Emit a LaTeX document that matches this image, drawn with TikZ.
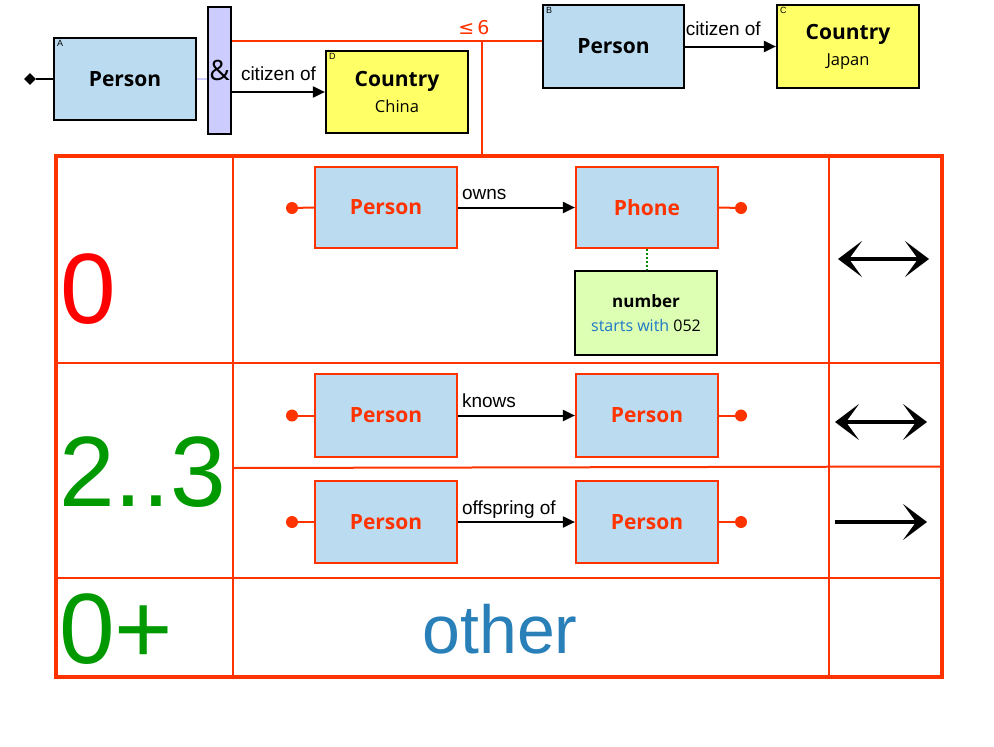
\documentclass[tikz,border=0pt]{standalone}
\usepackage{fontspec}
\setmainfont{Liberation Sans}
\newfontfamily\nf{Open Sans}
\newfontfamily\dv{DejaVu Sans}
\usetikzlibrary{arrows.meta,shapes.geometric}
\definecolor{redc}{RGB}{255,51,0}
\definecolor{entblue}{RGB}{187,220,240}
\definecolor{yel}{RGB}{255,255,102}
\definecolor{lav}{RGB}{204,204,255}
\definecolor{lgreen}{RGB}{221,255,179}
\definecolor{grn}{RGB}{0,153,0}
\definecolor{bluec}{RGB}{41,128,185}
\definecolor{swc}{RGB}{30,120,200}
\definecolor{dotgreen}{RGB}{0,140,0}
\tikzset{
  ent/.style={draw=black, line width=2.2pt, fill=entblue, minimum width=142pt, minimum height=82pt, inner sep=0pt, font=\nf\bfseries\fontsize{21}{24}\selectfont},
  rent/.style={ent, draw=redc, line width=2.2pt, text=redc},
  cty/.style={ent, fill=yel, align=center, font=\nf\bfseries\fontsize{21}{26}\selectfont},
  tag/.style={font=\fontsize{9}{10}\selectfont, anchor=north west, inner sep=0pt, xshift=4pt, yshift=-3pt},
  arr/.style={draw=black, line width=2pt, -{Triangle[length=12pt,width=11pt]}},
  lbl/.style={font=\fontsize{19}{22}\selectfont, inner sep=0pt},
  rdot/.style={circle, fill=redc, minimum size=12pt, inner sep=0pt},
  redline/.style={draw=redc, line width=2pt},
  bigarr/.style={line width=4.2pt, black},
  cnt/.style={font=\fontsize{100}{110}\selectfont, anchor=base west, inner sep=0pt}
}
\begin{document}
\begin{tikzpicture}[x=1pt,y=-1pt]
\useasboundingbox (0,0) rectangle (994,747);
% ---- top pattern
\node[ent] (A) at (125,79) {Person};
\node[tag] at (A.north west) {A};
\node[draw=black, line width=2.2pt, fill=lav, minimum width=23pt, minimum height=127pt, inner sep=0pt, font=\nf\fontsize{28}{30}\selectfont] (amp) at (219.5,70.5) {\&};
\node[cty] (D) at (397,92) {Country\\{\nf\mdseries\fontsize{16.5}{26}\selectfont China}};
\node[tag] at (D.north west) {D};
\node[ent, minimum width=141pt, minimum height=83pt] (B) at (613.5,46.5) {Person};
\node[tag] at (B.north west) {B};
\node[cty, minimum height=83pt] (C) at (848,46.5) {Country\\{\nf\mdseries\fontsize{16.5}{26}\selectfont Japan}};
\node[tag] at (C.north west) {C};
\node[diamond, fill=black, minimum size=12pt, inner sep=0pt] (dia) at (30,79) {};
\draw[line width=2pt] (dia) -- (A.west);
\draw[lav, line width=2pt] (A.east) -- (amp.west |- A.east);
\draw[arr] (amp.east |- D.west) -- node[lbl, above, yshift=10pt] {citizen of} (D.west);
\draw[arr] (B.east) -- node[lbl, above, yshift=10pt, pos=0.42] {citizen of} (C.west);
% ---- constraint line
\coordinate (tt) at (482,156);
\draw[redline] (amp.east |- B.west) ++(0,-5.5) coordinate (cl) -- (cl -| B.west);
\draw[redline] (482,41) -- (tt);
\node[font=\dv\fontsize{19}{22}\selectfont, text=redc, inner sep=0pt] (le) at (474,28) {≤\,6};
% ---- table
\draw[redc, line width=2pt] (233,156) -- (233,677);
\draw[redc, line width=2pt] (829,156) -- (829,677);
\draw[redc, line width=2pt] (56,363) -- (942,363);
\draw[redc, line width=2pt] (56,578) -- (942,578);
\draw[redc, line width=2pt] (233,468) -- (942,466.5);
\draw[redc, line width=4pt] (56,156) rectangle (942,677);
% row labels
\node[cnt, text=red] (n0) at (60,323) {0};
\node[cnt, text=grn] (n23) at (59,506) {2..3};
\node[cnt, text=grn] (n0p) at (59,663) {0+};
\node[font=\fontsize{68}{72}\selectfont, text=bluec, anchor=base, inner sep=0pt] (oth) at (500,653) {other};
% row 1
\node[rent, minimum height=81pt] (p1) at (386,207.5) {Person};
\node[rent, minimum height=81pt] (ph) at (647,207.5) {Phone};
\node[rdot] (d1) at (292,208) {};
\node[rdot] (d2) at (741,208) {};
\draw[redline] (d1) -- (p1.west);
\draw[redline] (ph.east) -- (d2);
\draw[arr] (p1.east) -- (ph.west) node[lbl, pos=0, anchor=base west, xshift=3pt, yshift=8pt] {owns};
\node[draw=black, line width=2.2pt, fill=lgreen, minimum width=142pt, minimum height=84pt, inner sep=0pt, align=center, font=\nf\bfseries\fontsize{17}{24}\selectfont] (num) at (646,313) {number\\{\nf\mdseries\fontsize{16}{24}\selectfont\color{swc}starts with \color{black}052}};
\draw[dotgreen, line width=2pt, dotted] (ph.south) -- (ph.south |- num.north);
% row 2
\node[rent, minimum height=83pt] (p2) at (386,415.5) {Person};
\node[rent, minimum height=83pt] (p3) at (647,415.5) {Person};
\node[rdot] (d3) at (292,415.5) {};
\node[rdot] (d4) at (741,415.5) {};
\draw[redline] (d3) -- (p2.west);
\draw[redline] (p3.east) -- (d4);
\draw[arr] (p2.east) -- (p3.west) node[lbl, pos=0, anchor=base west, xshift=3pt, yshift=8pt] {knows};
% row 3
\node[rent] (p4) at (386,522) {Person};
\node[rent] (p5) at (647,522) {Person};
\node[rdot] (d5) at (292,522) {};
\node[rdot] (d6) at (741,522) {};
\draw[redline] (d5) -- (p4.west);
\draw[redline] (p5.east) -- (d6);
\draw[arr] (p4.east) -- (p5.west) node[lbl, pos=0, anchor=base west, xshift=3pt, yshift=8pt] {offspring of};
% right column symbols
\coordinate (s1a) at (838,259); \coordinate (s1b) at (929,259);
\coordinate (s2a) at (835,422); \coordinate (s2b) at (927,422);
\coordinate (s3a) at (835,522); \coordinate (s3b) at (927,522);
\draw[bigarr, {Stealth[length=24pt,width=36pt,inset=13pt]}-{Stealth[length=24pt,width=36pt,inset=13pt]}] (s1a) -- (s1b);
\draw[bigarr, {Stealth[length=24pt,width=36pt,inset=13pt]}-{Stealth[length=24pt,width=36pt,inset=13pt]}] (s2a) -- (s2b);
\draw[bigarr, -{Stealth[length=24pt,width=36pt,inset=13pt]}] (s3a) -- (s3b);
\end{tikzpicture}
\end{document}
